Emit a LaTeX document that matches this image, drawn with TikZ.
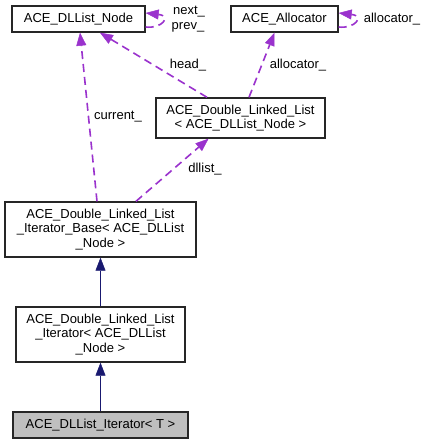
\documentclass[tikz,border=0pt]{standalone}
\usepackage{fontspec}
\setmainfont{Liberation Sans}
\usetikzlibrary{arrows.meta}
\definecolor{dep}{HTML}{9A32CD}
\definecolor{inh}{HTML}{191970}
\begin{document}
\begin{tikzpicture}[x=1pt,y=-1pt,
  cls/.style={draw=black!85,line width=1.4pt,fill=white,inner sep=0pt,align=center,
    font=\fontsize{13}{14.5}\selectfont},
  lbl/.style={inner sep=0pt,font=\fontsize{13}{14.5}\selectfont},
  depline/.style={color=dep,line width=1.6pt,dash pattern=on 8pt off 5pt,
    -{Triangle[length=13pt,width=10pt,line width=0.5pt]}},
  inhline/.style={color=inh,line width=1.6pt,-{Triangle[length=13pt,width=10pt,line width=0.5pt]}}]
\useasboundingbox[fill=white] (0,0) rectangle (429,444);
\node[cls,minimum width=133pt,minimum height=26pt] (n) at (78.5,19) {ACE\_DLList\_Node};
\node[cls,minimum width=107pt,minimum height=26pt] (al) at (284.5,19) {ACE\_Allocator};
\node[cls,minimum width=169pt,minimum height=40pt] (dll) at (240.5,118) {ACE\_Double\_Linked\_List\\{< ACE\_DLList\_Node >}};
\node[cls,minimum width=191pt,minimum height=55pt] (base) at (100.5,229.5) {ACE\_Double\_Linked\_List\\\_Iterator\_Base< ACE\_DLList\\\_Node >};
\node[cls,minimum width=169pt,minimum height=55pt] (it) at (100.5,334.5) {ACE\_Double\_Linked\_List\\\_Iterator< ACE\_DLList\\\_Node >};
\node[cls,fill={rgb,255:red,191;green,191;blue,191},minimum width=175pt,minimum height=26pt] (dli) at (100.5,425) {ACE\_DLList\_Iterator< T >};
% self loops
\draw[depline] ([yshift=-8pt]n.east) .. controls (162,29) and (172,16) .. ([yshift=6pt]n.east);
\draw[depline] ([yshift=-8pt]al.east) .. controls (355,29) and (365,16) .. ([yshift=6pt]al.east);
\node[lbl] (l1) at (189,12) {next\_};
\node[lbl] (l2) at (188,27) {prev\_};
\node[lbl] (l3) at (392,19) {allocator\_};
% dependencies
\draw[depline] ([xshift=-33.5pt]dll.north) -- ([xshift=21.5pt]n.south);
\node[lbl] (l4) at (188,65) {head\_};
\draw[depline] ([xshift=8.5pt]dll.north) -- ([xshift=-10pt]al.south);
\node[lbl] (l5) at (298,65) {allocator\_};
\draw[depline] ([xshift=-3.5pt]base.north) -- ([xshift=1.5pt]n.south);
\node[lbl] (l6) at (118,117) {current\_};
\draw[depline] ([xshift=35.5pt]base.north) -- ([xshift=-32pt]dll.south);
\node[lbl] (l7) at (205,169) {dllist\_};
% inheritance
\draw[inhline] (it.north) -- (base.south);
\draw[inhline] (dli.north) -- (it.south);
\end{tikzpicture}
\end{document}
